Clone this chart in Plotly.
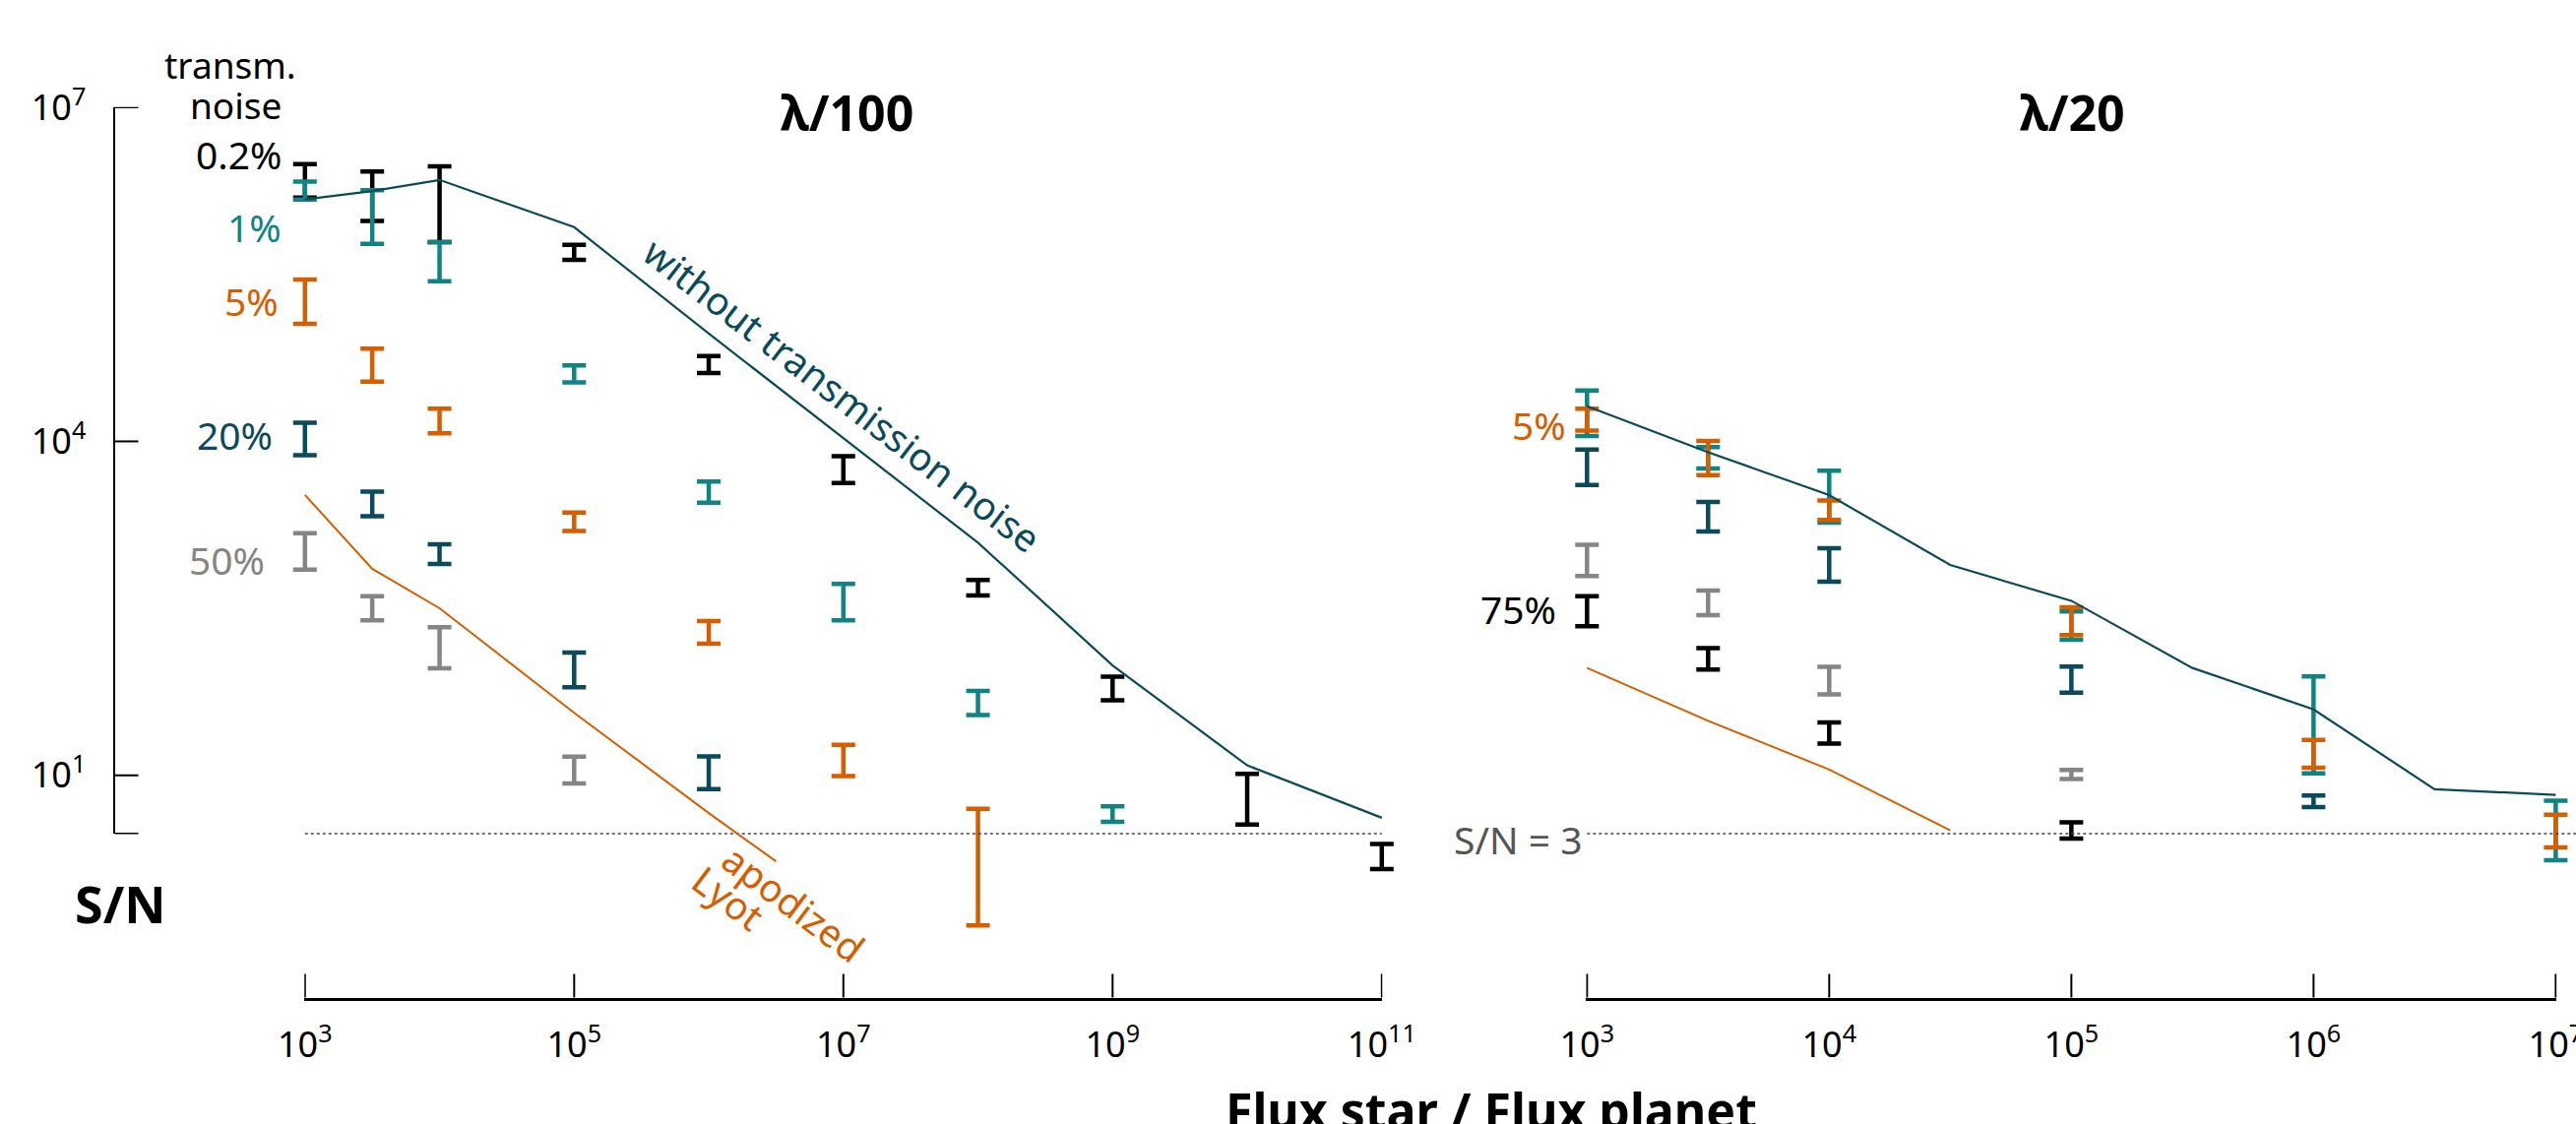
import math
import plotly.graph_objects as go

# ---------------- data ----------------
L_X = [1e3, 3162, 1e4, 1e5, 1e6, 1e7, 1e8, 1e9, 1e10, 1e11]
R_X = [1e3, 3162, 1e4, 3.16e4, 1e5, 3.16e5, 1e6, 3.16e6, 1e7]

# lambda/100 panel : error bars (low / high S/N)
l_black_x = L_X
l_black_hi = [3.10e6, 2.65e6, 2.95e6, 5.82e5, 5.85e4, 7.38e3, 569, 76.9, 10.3, 2.42]
l_black_lo = [1.55e6, 9.57e5, 6.17e5, 4.27e5, 4.11e4, 4.23e3, 414, 47.3, 3.61, 1.44]
l_teal_x = [1e3, 3162, 1e4, 1e5, 1e6, 1e7, 1e8, 1e9]
l_teal_hi = [2.16e6, 1.80e6, 6.17e5, 4.81e4, 4.35e3, 524, 57.4, 5.26]
l_teal_lo = [1.49e6, 5.96e5, 2.75e5, 3.39e4, 2.81e3, 247, 34.8, 3.83]
l_orange_x = [1e3, 3162, 1e4, 1e5, 1e6, 1e7, 1e8]
l_orange_hi = [2.84e5, 6.82e4, 1.97e4, 2.30e3, 243, 18.8, 5.0]
l_orange_lo = [1.14e5, 3.44e4, 1.18e4, 1.57e3, 152, 9.86, 0.45]
l_dark_x = [1e3, 3162, 1e4, 1e5, 1e6]
l_dark_hi = [1.47e4, 3.54e3, 1.19e3, 127, 14.8]
l_dark_lo = [7.53e3, 2.13e3, 792, 61.8, 7.52]
l_gray_x = [1e3, 3162, 1e4, 1e5]
l_gray_hi = [1.50e3, 407, 214, 14.7]
l_gray_lo = [706, 247, 91.6, 8.45]

# lambda/20 panel : error bars
r_teal_x = [1e3, 3162, 1e4, 1e5, 1e6, 1e7]
r_teal_hi = [2.86e4, 8.9e3, 5.45e3, 297, 77.3, 5.93]
r_teal_lo = [1.12e4, 5.70e3, 1.86e3, 165, 10.4, 1.73]
r_orange_x = [1e3, 3162, 1e4, 1e5, 1e6, 1e7]
r_orange_hi = [1.97e4, 1.01e4, 2.95e3, 324, 20.8, 4.43]
r_orange_lo = [1.25e4, 4.98e3, 1.97e3, 182, 11.7, 2.25]
r_dark_x = [1e3, 3162, 1e4, 1e5, 1e6]
r_dark_hi = [8.45e3, 2.85e3, 1.10e3, 95.1, 6.58]
r_dark_lo = [4.06e3, 1.55e3, 548, 55.2, 5.19]
r_gray_x = [1e3, 3162, 1e4, 1e5]
r_gray_hi = [1.18e3, 457, 94.2, 11.2]
r_gray_lo = [617, 275, 53.5, 9.27]
r_black_x = [1e3, 3162, 1e4, 1e5]
r_black_hi = [406, 139, 29.9, 3.78]
r_black_lo = [219, 89.1, 19.3, 2.70]

# lines
l_free_y = [1.49e6, 1.77e6, 2.23e6, 8.4e5, 9.3e4, 1.07e4, 1.23e3, 97.3, 12.3, 4.16]
l_lyot_x = [1e3, 3162, 1e4, 1e5, 1e6, 3.16e6]
l_lyot_y = [3.3e3, 718, 317, 36.5, 4.58, 1.69]
r_free_y = [2.07e4, 8.0e3, 3.29e3, 776, 370, 92.3, 39.1, 7.52, 6.68]
r_lyot_x = [1e3, 3162, 1e4, 3.16e4]
r_lyot_y = [92.3, 30.9, 11.3, 3.21]

SN_LIMIT = 3
L_TICKS = [1e3, 1e5, 1e7, 1e9, 1e11]
L_TICKTEXT = ["10<sup>3</sup>", "10<sup>5</sup>", "10<sup>7</sup>", "10<sup>9</sup>", "10<sup>11</sup>"]
R_TICKS = [1e3, 1e4, 1e5, 1e6, 1e7]
R_TICKTEXT = ["10<sup>3</sup>", "10<sup>4</sup>", "10<sup>5</sup>", "10<sup>6</sup>", "10<sup>7</sup>"]
Y_TICKS = [3, 10, 1e4, 1e7]
Y_TICKTEXT = [" ", "10<sup>1</sup>", "10<sup>4</sup>", "10<sup>7</sup>"]

# ---------------- style ----------------
BLACK = "#000000"
TEAL = "#0f8482"
DARK = "#0a4a5a"
ORANGE = "#d55e00"
GRAY = "#858585"
FONT = "Noto Sans, Open Sans, sans-serif"

W, H = 2617, 1142
def fx(p):
    return p / W
def fy(p):
    return 1 - p / H

# pixel calibration of the layout
LX0, LX1 = 309.8, 1403.8      # 1e3 .. 1e11 (left)
RX0, RX1 = 1612.3, 2596.4     # 1e3 .. 1e7 (right)
Y7, Y1 = 109.1, 787.8         # 1e7 and 1e1
ppl = (LX1 - LX0) / 8
ppr = (RX1 - RX0) / 4
ppy = (Y1 - Y7) / 6
XAXIS_Y = 1013.5
YAXIS_X = 116.5
TICKLEN = 24
EPS = 0.004  # tiny range padding (in decades) so end ticks are kept

fig = go.Figure()

def ebars(x, lo, hi, color, xa):
    c = [math.sqrt(a * b) for a, b in zip(lo, hi)]
    fig.add_trace(go.Scatter(
        x=x, y=c, mode="markers", xaxis=xa, yaxis="y",
        marker=dict(size=1, color="rgba(0,0,0,0)"),
        error_y=dict(type="data", symmetric=False,
                     array=[h - m for h, m in zip(hi, c)],
                     arrayminus=[m - l for m, l in zip(c, lo)],
                     color=color, thickness=4.5, width=12),
        hoverinfo="skip", showlegend=False))

# left panel error bars
ebars(l_black_x, l_black_lo, l_black_hi, BLACK, "x")
ebars(l_teal_x, l_teal_lo, l_teal_hi, TEAL, "x")
ebars(l_orange_x, l_orange_lo, l_orange_hi, ORANGE, "x")
ebars(l_dark_x, l_dark_lo, l_dark_hi, DARK, "x")
ebars(l_gray_x, l_gray_lo, l_gray_hi, GRAY, "x")
# right panel error bars
ebars(r_black_x, r_black_lo, r_black_hi, BLACK, "x2")
ebars(r_teal_x, r_teal_lo, r_teal_hi, TEAL, "x2")
ebars(r_orange_x, r_orange_lo, r_orange_hi, ORANGE, "x2")
ebars(r_dark_x, r_dark_lo, r_dark_hi, DARK, "x2")
ebars(r_gray_x, r_gray_lo, r_gray_hi, GRAY, "x2")

def line(x, y, color, xa, width=2.2, dash=None):
    fig.add_trace(go.Scatter(x=x, y=y, mode="lines", xaxis=xa, yaxis="y",
                             line=dict(color=color, width=width, dash=dash),
                             hoverinfo="skip", showlegend=False))

# S/N = 3 threshold
line([L_X[0], L_X[-1]], [SN_LIMIT, SN_LIMIT], "#444444", "x", 1.6, "dot")
line([R_X[0], 1.3e7], [SN_LIMIT, SN_LIMIT], "#444444", "x2", 1.6, "dot")
# lines
line(L_X, l_free_y, DARK, "x", 2.2)
line(l_lyot_x, l_lyot_y, ORANGE, "x", 2.0)
line(R_X, r_free_y, DARK, "x2", 2.2)
line(r_lyot_x, r_lyot_y, ORANGE, "x2", 2.0)

# invisible traces carrying the visible (decorative) axes
def carrier(xa, ya, xv, yv):
    fig.add_trace(go.Scatter(x=[xv], y=[yv], xaxis=xa, yaxis=ya, mode="markers",
                             marker=dict(size=1, color="rgba(0,0,0,0)"),
                             hoverinfo="skip", showlegend=False))
carrier("x3", "y3", 1e3, 1)
carrier("x4", "y3", 1e3, 1)
carrier("x5", "y4", 1, 10)

hidden = dict(visible=False, showgrid=False, zeroline=False, type="log")
tickfont = dict(family=FONT, size=36, color=BLACK)
axstyle = dict(showline=True, linecolor=BLACK, ticks="", tickfont=tickfont,
               ticklabeloverflow="allow",
               showgrid=False, zeroline=False, automargin=False, type="log")

fig.update_layout(
    width=W, height=H, autosize=False,
    margin=dict(l=0, r=0, t=0, b=0, pad=0, autoexpand=False),
    paper_bgcolor="white", plot_bgcolor="rgba(0,0,0,0)",
    hovermode=False, showlegend=False,
    font=dict(family=FONT, color=BLACK),
    # data axes (hidden)
    xaxis=dict(hidden, domain=[fx(130), fx(1490)],
               range=[3 - (LX0 - 130) / ppl, 3 + (1490 - LX0) / ppl]),
    xaxis2=dict(hidden, domain=[fx(1500), 1.0],
                range=[3 - (RX0 - 1500) / ppr, 3 + (W - RX0) / ppr], anchor="y"),
    yaxis=dict(hidden, domain=[0, 1],
               range=[7 - (H - Y7) / ppy, 7 + Y7 / ppy]),
    # anchors for the visible axes (hidden)
    yaxis3=dict(hidden, domain=[fy(XAXIS_Y), fy(600)], range=[0, 1], anchor="x3"),
    xaxis5=dict(hidden, domain=[fx(YAXIS_X), fx(200)], range=[0, 1], anchor="y4"),
    # visible axes
    xaxis3=dict(axstyle, linewidth=3,
                domain=[fx(LX0 - EPS * ppl), fx(LX1 + EPS * ppl)], range=[3 - EPS, 11 + EPS],
                anchor="y3", tickvals=L_TICKS, ticktext=L_TICKTEXT, ticklabelstandoff=14),
    xaxis4=dict(axstyle, linewidth=3,
                domain=[fx(RX0 - EPS * ppr), fx(RX1 + EPS * ppr)], range=[3 - EPS, 7 + EPS],
                anchor="y3", tickvals=R_TICKS, ticktext=R_TICKTEXT, ticklabelstandoff=14),
    yaxis4=dict(axstyle, linewidth=2,
                domain=[fy(Y7 + (7 - math.log10(3) + EPS) * ppy), fy(Y7 - EPS * ppy)],
                range=[math.log10(3) - EPS, 7 + EPS],
                anchor="x5", tickvals=Y_TICKS, ticktext=Y_TICKTEXT, ticklabelstandoff=20),
)

# tick marks pointing inward, placed through the visible axes' scales
for t in L_TICKS:
    fig.add_shape(type="line", xref="x3", yref="paper", x0=t, x1=t,
                  y0=fy(XAXIS_Y), y1=fy(XAXIS_Y - TICKLEN), line=dict(color=BLACK, width=2))
for t in R_TICKS:
    fig.add_shape(type="line", xref="x4", yref="paper", x0=t, x1=t,
                  y0=fy(XAXIS_Y), y1=fy(XAXIS_Y - TICKLEN), line=dict(color=BLACK, width=2))
for t in Y_TICKS:
    fig.add_shape(type="line", xref="paper", yref="y4", x0=fx(YAXIS_X), x1=fx(YAXIS_X + TICKLEN),
                  y0=t, y1=t, line=dict(color=BLACK, width=2))

def ann(text, px, py, color=BLACK, size=39, xanchor="center", yanchor="middle", angle=0, bold=False):
    if bold:
        text = "<b>" + text + "</b>"
    fig.add_annotation(text=text, x=fx(px), y=fy(py), xref="paper", yref="paper",
                       showarrow=False, xanchor=xanchor, yanchor=yanchor, textangle=angle,
                       font=dict(family=FONT, size=size, color=color))

ann("λ/100", 861, 114, size=50, bold=True)
ann("λ/20", 2105, 114, size=50, bold=True)
ann("transm.", 234, 66, size=37)
ann("noise", 239, 106, size=37)
ann("0.2%", 288, 157, BLACK, xanchor="right")
ann("1%", 288, 231, TEAL, xanchor="right")
ann("5%", 285, 305, ORANGE, xanchor="right")
ann("20%", 279, 441, DARK, xanchor="right")
ann("50%", 271, 568, GRAY, xanchor="right")
ann("5%", 1593, 431, ORANGE, xanchor="right")
ann("75%", 1583, 618, BLACK, xanchor="right")
ann("S/N = 3", 1609, 852, "#555555", xanchor="right")
ann("S/N", 122, 917, size=52, bold=True)
ann("without transmission noise", 856, 400, DARK, size=39, angle=37.5)
ann("apodized", 807, 917, ORANGE, size=39, angle=37)
ann("Lyot", 740, 912, ORANGE, size=39, angle=37)
ann("Flux star / Flux planet", 1515, 1092, size=50, yanchor="top", bold=True)

fig.write_html("out.html")
